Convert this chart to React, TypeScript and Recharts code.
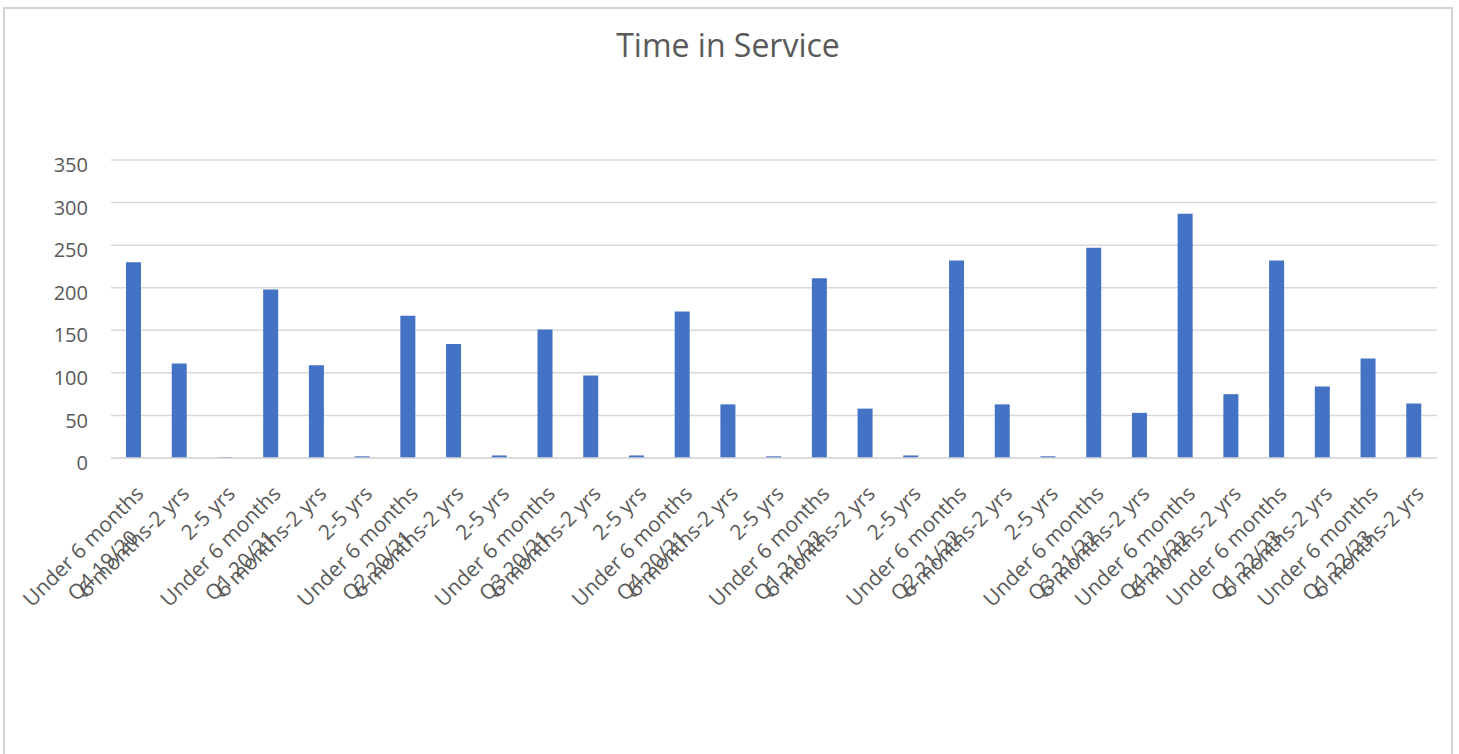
import React from 'react';
import { BarChart, Bar, XAxis, YAxis, CartesianGrid } from 'recharts';

// one entry per bar, in the order they appear along the axis
const bands = [
  'Under 6 months', '6 months-2 yrs', '2-5 yrs',
  'Under 6 months', '6 months-2 yrs', '2-5 yrs',
  'Under 6 months', '6 months-2 yrs', '2-5 yrs',
  'Under 6 months', '6 months-2 yrs', '2-5 yrs',
  'Under 6 months', '6 months-2 yrs', '2-5 yrs',
  'Under 6 months', '6 months-2 yrs', '2-5 yrs',
  'Under 6 months', '6 months-2 yrs', '2-5 yrs',
  'Under 6 months', '6 months-2 yrs',
  'Under 6 months', '6 months-2 yrs',
  'Under 6 months', '6 months-2 yrs',
  'Under 6 months', '6 months-2 yrs'
];

// quarter label sits under the first bar of its group
const quarters = [
  'Q4 19/20', '', '',
  'Q1 20/21', '', '',
  'Q2 20/21', '', '',
  'Q3 20/21', '', '',
  'Q4 20/21', '', '',
  'Q1 21/22', '', '',
  'Q2 21/22', '', '',
  'Q3 21/22', '',
  'Q4 21/22', '',
  'Q1 22/23', '',
  'Q1 22/23', ''
];

const counts = [
  230, 111, 1,
  198, 109, 2,
  167, 134, 3,
  151, 97, 3,
  172, 63, 2,
  211, 58, 3,
  232, 63, 2,
  247, 53,
  287, 75,
  232, 84,
  117, 64
];

const yTicks = [0, 50, 100, 150, 200, 250, 300, 350];

const data = bands.map((band, i) => ({
  idx: i,
  band,
  quarter: quarters[i],
  count: counts[i]
}));

const FONT = '"Open Sans", sans-serif';
const TEXT = '#595959';
const GRID = '#d9d9d9';
const FRAME = '#d4d4d4';

function YTick({ x, y, payload }: any) {
  return (
    <text x={x - 23} y={y + 5} dy="0.355em" textAnchor="end" fill={TEXT} fontSize={20} fontFamily={FONT}>
      {payload.value}
    </text>
  );
}

function XTick({ x, y, payload }: any) {
  const row = data[payload.value];
  return (
    <g>
      <text
        transform={`translate(${x + 11}, ${y + 37}) rotate(-45)`}
        textAnchor="end"
        fill={TEXT}
        fontSize={21}
        fontFamily={FONT}
      >
        {row.band}
      </text>
      {row.quarter && (
        <text
          transform={`translate(${x + 6}, ${y + 81}) rotate(-45)`}
          textAnchor="end"
          fill={TEXT}
          fontSize={21}
          fontFamily={FONT}
        >
          {row.quarter}
        </text>
      )}
    </g>
  );
}

export default function App() {
  return (
    <div style={{ position: 'relative', width: 1443, height: 738 }}>
      <style>{'html{overflow:hidden}'}</style>
      {/* chart frame, pinned to the window: top, left and right edges */}
      <div style={{ position: 'fixed', left: 3, top: 7, width: 1450, height: 2, background: FRAME }} />
      <div style={{ position: 'fixed', left: 3, top: 7, width: 2, height: 760, background: FRAME }} />
      <div style={{ position: 'fixed', left: 1451, top: 7, width: 2, height: 760, background: FRAME }} />
      <div
        style={{
          position: 'absolute',
          top: 21,
          left: -5,
          width: 1450,
          textAlign: 'center',
          fontFamily: FONT,
          fontSize: 32,
          lineHeight: 1,
          color: TEXT
        }}
      >
        Time in Service
      </div>
      <div style={{ position: 'absolute', left: -3, top: 2 }}>
        <BarChart
          width={1446}
          height={736}
          data={data}
          margin={{ top: 150, right: 14, left: 1, bottom: 0 }}
          barSize={15}
        >
          <CartesianGrid vertical={false} stroke={GRID} strokeWidth={1.5} />
          <XAxis
            dataKey="idx"
            type="category"
            interval={0}
            height={288}
            tickSize={0}
            tickMargin={0}
            tickLine={false}
            axisLine={{ stroke: GRID, strokeWidth: 1.5 }}
            tick={<XTick />}
          />
          <YAxis
            domain={[0, 350]}
            ticks={yTicks}
            width={105}
            tickSize={0}
            tickMargin={0}
            tickLine={false}
            axisLine={false}
            tick={<YTick />}
          />
          <Bar dataKey="count" fill="#4472C4" isAnimationActive={false} />
        </BarChart>
      </div>
    </div>
  );
}
